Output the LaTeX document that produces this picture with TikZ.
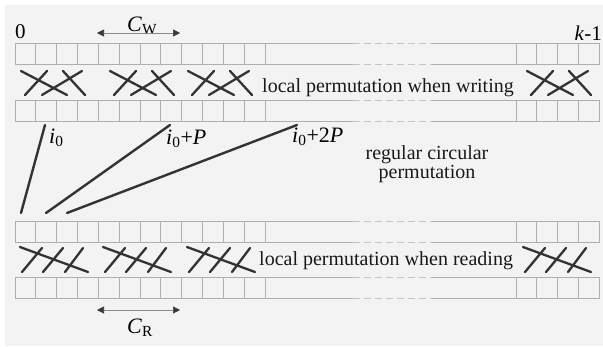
\documentclass[tikz,border=0pt]{standalone}
\usepackage{fontspec}
\setmainfont{Liberation Serif}
\usetikzlibrary{arrows.meta}
\definecolor{bg}{HTML}{F3F3F3}
\definecolor{cellc}{HTML}{AFAFAF}
\definecolor{dashc}{HTML}{C4C4C4}
\definecolor{permc}{HTML}{333333}
\definecolor{arrc}{HTML}{8A8A8A}
\definecolor{headc}{HTML}{3A3A3A}
\tikzset{
  cell/.style={draw=cellc, line width=0.8pt},
  gapline/.style={draw=dashc, line width=0.8pt, dash pattern=on 7pt off 4pt},
  perm/.style={draw=permc, line width=2.4pt, line cap=round},
  cross/.style={draw=permc, line width=2.3pt, line cap=round},
  span/.style={draw=arrc, line width=0.7pt, {Triangle[length=7pt,width=7pt,color=headc]}-{Triangle[length=7pt,width=7pt,color=headc]}},
  txt/.style={inner sep=0pt, text=black!90, font=\fontsize{20}{15}\selectfont},
  lbl/.style={inner sep=0pt, font=\fontsize{22}{24}\selectfont},
  idx/.style={inner sep=0pt, font=\fontsize{21}{22}\selectfont},
}
\newcommand{\drawarrayrow}[1]{%
  \foreach \i in {0,...,11}
    \draw[cell] ({15+\i*250/12},#1) rectangle ({15+(\i+1)*250/12},{#1+21});
  \foreach \i in {0,...,3}
    \draw[cell] ({516+\i*83/4},#1) rectangle ({516+(\i+1)*83/4},{#1+21});
  \draw[cell] (265,#1) -- (353,#1) (432,#1) -- (516,#1);
  \draw[cell] (265,{#1+21}) -- (353,{#1+21}) (432,{#1+21}) -- (516,{#1+21});
  \draw[gapline] (353,#1) -- (432,#1);
  \draw[gapline] (353,{#1+21}) -- (432,{#1+21});
}
\newcommand{\writegroup}[1]{%
  \draw[cross] ({#1+6},71) -- ({#1+52},95);
  \draw[cross] ({#1+32},71) -- ({#1+10},95);
  \draw[cross] ({#1+27},95) -- ({#1+67},71);
  \draw[cross] ({#1+48},71) -- ({#1+70},95);
}
\newcommand{\readgroup}[1]{%
  \draw[cross] ({#1+5},247) -- ({#1+73},272);
  \draw[cross] ({#1+27},248) -- ({#1+7},272);
  \draw[cross] ({#1+48},248) -- ({#1+28},272);
  \draw[cross] ({#1+68},248) -- ({#1+50},272);
}
\begin{document}
\begin{tikzpicture}[x=1pt,y=-1pt]
\useasboundingbox (0,0) rectangle (603,346);
\fill[bg] (5,5) rectangle (603,346);
% arrays
\drawarrayrow{43}
\drawarrayrow{100}
\drawarrayrow{221}
\drawarrayrow{277}
% local permutations
\writegroup{15}
\writegroup{104}
\writegroup{182}
\writegroup{521}
\readgroup{15}
\readgroup{98}
\readgroup{182}
\readgroup{518}
% texts
\node[idx, anchor=base west] (zero) at (15,38) {0};
\node[idx, anchor=base east] (kmin) at (602,40) {\textit{k}-1};
\node[lbl, anchor=base west] (cw) at (127,31) {\textit{C}\textsubscript{W}};
\node[lbl, anchor=base west] (cr) at (127,333) {\textit{C}\textsubscript{R}};
\coordinate (cwl) at (97,33);
\coordinate (cwr) at (180,33);
\coordinate (crl) at (97,310);
\coordinate (crr) at (180,310);
\draw[span] (cwl) -- (cwr);
\draw[span] (crl) -- (crr);
\node[txt, anchor=base west] (wtext) at (262,92) {local permutation when writing};
\node[txt, anchor=base west] (rtext) at (259,265) {local permutation when reading};
\node[txt, align=center, anchor=base] (circ) at (427,178) {regular circular\\permutation};
\node[lbl, anchor=base west] (l0) at (49,143) {\textit{i}\textsubscript{0}};
\node[lbl, anchor=base west] (l1) at (166,144) {\textit{i}\textsubscript{0}+\textit{P}};
\node[lbl, anchor=base west] (l2) at (292,142) {\textit{i}\textsubscript{0}+2\textit{P}};
% circular permutation connectors
\coordinate (a0) at (45,125);
\coordinate (b0) at (21,213);
\coordinate (a1) at (170,125);
\coordinate (b1) at (46,213);
\coordinate (a2) at (297,125);
\coordinate (b2) at (67,213);
\draw[perm] (a0) -- (b0);
\draw[perm] (a1) -- (b1);
\draw[perm] (a2) -- (b2);
\end{tikzpicture}
\end{document}
